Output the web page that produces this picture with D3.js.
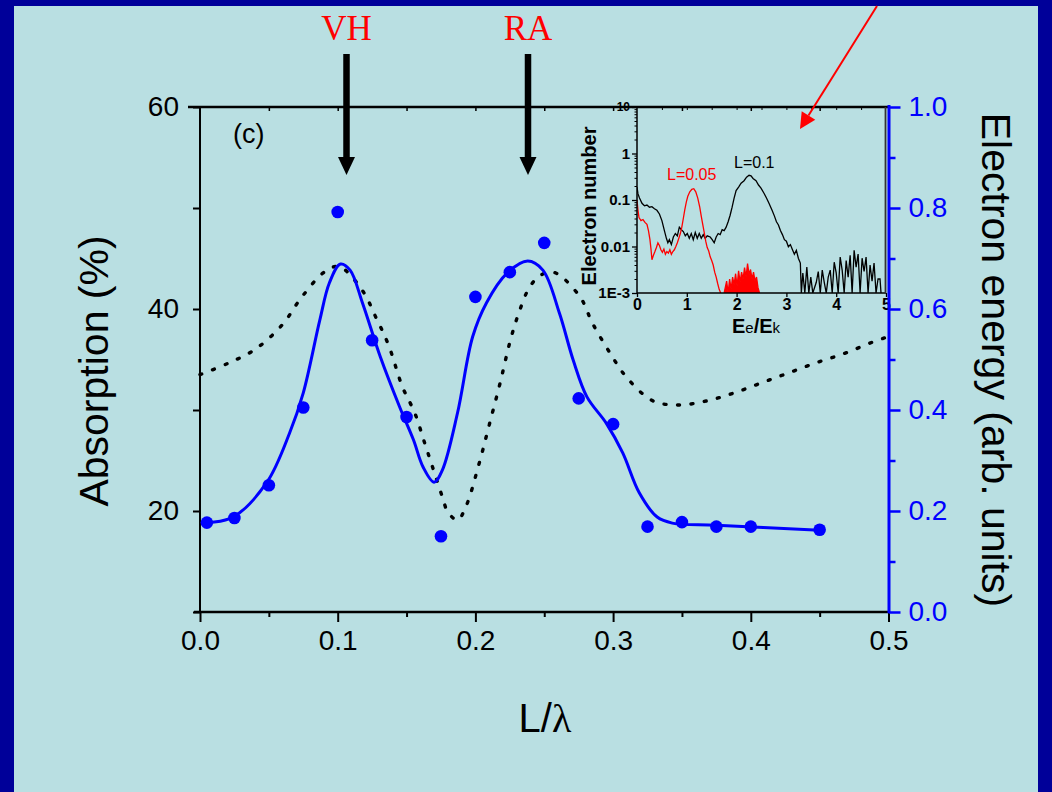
<!DOCTYPE html>
<html>
<head>
<meta charset="utf-8">
<script src="https://cdn.jsdelivr.net/npm/d3@7"></script>
<style>
	body { margin: 0; background: #000099; }
	svg { display: block; }
	text { font-family: Arial, 'Liberation Sans', sans-serif; }
</style>
</head>
<body>
<svg id="chart" width="1052" height="792"></svg>
<script>
// measured electron energy (blue dots, right axis)
const dotL = [0.005, 0.025, 0.05, 0.075, 0.1, 0.125, 0.15, 0.175, 0.2, 0.225, 0.25, 0.275, 0.3, 0.325, 0.35, 0.375, 0.4, 0.45]
const dotE = [0.177, 0.186, 0.251, 0.405, 0.792, 0.538, 0.386, 0.150, 0.624, 0.673, 0.731, 0.423, 0.372, 0.169, 0.178, 0.169, 0.169, 0.163]

// smooth fit through the energies (blue line)
const fitL = [0.002, 0.024, 0.0486, 0.065, 0.075, 0.087, 0.094, 0.102, 0.109, 0.118, 0.131, 0.145, 0.155, 0.162, 0.170, 0.176, 0.187, 0.198, 0.208, 0.223, 0.238, 0.249, 0.261, 0.271, 0.281, 0.295, 0.307, 0.319, 0.332, 0.343, 0.375, 0.450]
const fitE = [0.176, 0.188, 0.257, 0.354, 0.434, 0.578, 0.652, 0.689, 0.677, 0.612, 0.505, 0.406, 0.341, 0.287, 0.257, 0.281, 0.394, 0.545, 0.612, 0.671, 0.695, 0.677, 0.592, 0.499, 0.426, 0.374, 0.315, 0.236, 0.188, 0.176, 0.172, 0.162]

// absorption (dotted, left axis)
const absL = [0, 0.020, 0.040, 0.0595, 0.074, 0.0907, 0.101, 0.1176, 0.128, 0.137, 0.147, 0.156, 0.163, 0.169, 0.176, 0.180, 0.187, 0.193, 0.2025, 0.210, 0.218, 0.225, 0.231, 0.2395, 0.248, 0.2576, 0.276, 0.285, 0.2975, 0.310, 0.329, 0.348, 0.368, 0.388, 0.408, 0.428, 0.448, 0.468, 0.488, 0.4985]
const absV = [33.5, 34.6, 36.0, 38.4, 41.2, 43.7, 44.2, 41.9, 39.1, 36.4, 32.3, 29.7, 26.8, 24.3, 21.4, 19.9, 19.1, 20.4, 24.6, 28.5, 32.7, 36.7, 39.4, 42.2, 43.4, 43.6, 41.2, 38.6, 35.7, 33.2, 30.9, 30.5, 30.9, 31.7, 32.7, 33.7, 34.7, 35.6, 36.7, 37.2]

// tick labels
const xTicks = [0, 0.1, 0.2, 0.3, 0.4, 0.5]
const absTicks = [20, 40, 60]
const enTicks = [0, 0.2, 0.4, 0.6, 0.8, 1.0]
const insetXTicks = [0, 1, 2, 3, 4, 5]
const insetYTicks = [1e-3, 0.01, 0.1, 1, 10]
const insetYLabels = ['1E-3', '0.01', '0.1', '1', '10']

// inset spectra [Ee/Ek, electron number]
const specL01 = [
	[0.00, 0.19], [0.02, 0.135], [0.05, 0.11], [0.10, 0.085], [0.15, 0.075], [0.20, 0.078], [0.25, 0.07], [0.30, 0.072],
	[0.35, 0.065], [0.40, 0.06], [0.45, 0.05], [0.50, 0.036], [0.55, 0.022], [0.59, 0.015], [0.62, 0.012], [0.65, 0.014],
	[0.69, 0.011], [0.73, 0.016], [0.77, 0.019], [0.81, 0.017], [0.85, 0.026], [0.89, 0.023], [0.93, 0.021], [0.97, 0.017],
	[1.01, 0.019], [1.05, 0.015], [1.09, 0.019], [1.13, 0.014], [1.17, 0.02], [1.21, 0.015], [1.25, 0.019], [1.29, 0.015],
	[1.33, 0.018], [1.37, 0.015], [1.41, 0.017], [1.47, 0.016], [1.51, 0.014], [1.55, 0.012], [1.59, 0.016], [1.63, 0.019],
	[1.67, 0.018], [1.71, 0.023], [1.75, 0.022], [1.79, 0.026], [1.83, 0.034], [1.87, 0.047], [1.91, 0.07], [1.95, 0.11],
	[1.99, 0.16], [2.04, 0.19], [2.09, 0.23], [2.15, 0.26], [2.20, 0.31], [2.25, 0.34], [2.29, 0.33], [2.33, 0.29],
	[2.39, 0.26], [2.44, 0.21], [2.49, 0.18], [2.55, 0.14], [2.60, 0.11], [2.65, 0.085], [2.71, 0.061], [2.76, 0.045],
	[2.80, 0.034], [2.84, 0.029], [2.88, 0.022], [2.92, 0.018], [2.96, 0.014], [3.00, 0.013], [3.04, 0.0099], [3.08, 0.011],
	[3.12, 0.0086], [3.16, 0.0068], [3.20, 0.0083], [3.24, 0.0056], [3.28, 0.0044], [3.30, 0.001], [3.33, 0.0027], [3.37, 0.001],
	[3.41, 0.0036], [3.45, 0.001], [3.49, 0.0022], [3.53, 0.001], [3.60, 0.0017], [3.64, 0.0029], [3.68, 0.001], [3.72, 0.0031],
	[3.76, 0.0017], [3.80, 0.001], [3.84, 0.0022], [3.88, 0.0031], [3.92, 0.001], [3.96, 0.0046], [4.00, 0.0027], [4.04, 0.001],
	[4.08, 0.0059], [4.12, 0.0031], [4.16, 0.001], [4.20, 0.005], [4.24, 0.0022], [4.28, 0.0065], [4.32, 0.001], [4.36, 0.0083],
	[4.40, 0.0036], [4.44, 0.0069], [4.48, 0.001], [4.52, 0.0056], [4.56, 0.0029], [4.60, 0.0059], [4.64, 0.001], [4.68, 0.004],
	[4.72, 0.0018], [4.76, 0.0044], [4.80, 0.001], [4.84, 0.002], [4.88, 0.002], [4.90, 0.001]
]
const specL005 = [
	[0.00, 0.10], [0.02, 0.06], [0.04, 0.042], [0.08, 0.036], [0.12, 0.038], [0.16, 0.033], [0.20, 0.030], [0.23, 0.022],
	[0.26, 0.014], [0.28, 0.009], [0.30, 0.0052], [0.33, 0.0065], [0.36, 0.0078], [0.39, 0.0095], [0.42, 0.012], [0.45, 0.0105],
	[0.48, 0.0085], [0.51, 0.0075], [0.54, 0.0088], [0.57, 0.0068], [0.60, 0.0078], [0.63, 0.0072], [0.66, 0.0085], [0.69, 0.0068],
	[0.72, 0.0078], [0.75, 0.0085], [0.78, 0.0100], [0.81, 0.0120], [0.84, 0.0150], [0.87, 0.0190], [0.90, 0.026], [0.93, 0.040],
	[0.96, 0.062], [0.99, 0.090], [1.02, 0.120], [1.06, 0.150], [1.10, 0.170], [1.14, 0.175], [1.18, 0.150], [1.22, 0.110],
	[1.26, 0.070], [1.29, 0.045], [1.32, 0.030], [1.35, 0.020], [1.38, 0.013], [1.41, 0.0095], [1.44, 0.0080], [1.47, 0.0060],
	[1.50, 0.0050], [1.53, 0.0040], [1.56, 0.0028], [1.59, 0.0022], [1.62, 0.0016], [1.65, 0.0012], [1.68, 0.001]
]
// red spike cluster near Ee/Ek = 2
const spikesL005 = [
	[1.75, 0.001], [1.80, 0.0018], [1.83, 0.001], [1.86, 0.0020], [1.89, 0.0012], [1.92, 0.0022], [1.95, 0.0015], [1.98, 0.0026],
	[2.01, 0.0014], [2.04, 0.0030], [2.07, 0.0017], [2.10, 0.0028], [2.13, 0.0020], [2.16, 0.0035], [2.19, 0.0022], [2.22, 0.0043],
	[2.25, 0.0025], [2.28, 0.0032], [2.31, 0.0020], [2.34, 0.0028], [2.37, 0.0018], [2.40, 0.0022], [2.43, 0.0013], [2.46, 0.001]
]

const svg = d3.select('#chart')

svg.append('rect').attr('width', 1052).attr('height', 792).attr('fill', '#000099')
svg.append('rect')
	.attr('x', 14).attr('y', 6)
	.attr('width', 1024).attr('height', 786)
	.attr('fill', '#b9dfe2')

const x = d3.scaleLinear().domain([0, 0.5]).range([200, 888.5])
const yAbs = d3.scaleLinear().domain([10, 60]).range([612, 107])
const yEn = d3.scaleLinear().domain([0, 1]).range([612, 107])

function styleAxis(g, color, size, width) {
	g.select('.domain').remove()
	g.selectAll('line').attr('stroke', color).attr('stroke-width', width)
	g.selectAll('text').attr('fill', color).style('font-size', size + 'px')
}

const minorX = d3.range(0.05, 0.5, 0.1)

// bottom axis
svg.append('g')
	.attr('transform', 'translate(0,612)')
	.call(d3.axisBottom(x).tickValues(xTicks).tickSize(10).tickPadding(8).tickFormat(d3.format('.1f')))
	.call(g => styleAxis(g, '#000', 28, 2))
svg.append('g')
	.attr('transform', 'translate(0,612)')
	.call(d3.axisBottom(x).tickValues(minorX).tickSize(5).tickFormat(''))
	.call(g => styleAxis(g, '#000', 28, 2))

// top axis, ticks pointing in
svg.append('g')
	.attr('transform', 'translate(0,107)')
	.call(d3.axisBottom(x).tickValues(d3.range(0.05, 0.5, 0.05)).tickSize(4).tickFormat(''))
	.call(g => styleAxis(g, '#000', 28, 1.5))

// left axis
svg.append('g')
	.attr('transform', 'translate(200,0)')
	.call(d3.axisLeft(yAbs).tickValues([10, 20, 30, 40, 50, 60]).tickSize(7).tickPadding(14)
		.tickFormat(d => absTicks.includes(d) ? d : ''))
	.call(g => styleAxis(g, '#000', 28, 2))

// right axis (blue)
svg.append('g')
	.attr('transform', 'translate(888.5,0)')
	.call(d3.axisRight(yEn).tickValues(enTicks).tickSize(12).tickPadding(8).tickFormat(d3.format('.1f')))
	.call(g => styleAxis(g, '#0000ff', 28, 2.5))
svg.append('g')
	.attr('transform', 'translate(888.5,0)')
	.call(d3.axisRight(yEn).tickValues([0.1, 0.3, 0.5, 0.7, 0.9]).tickSize(7).tickFormat(''))
	.call(g => styleAxis(g, '#0000ff', 28, 2.5))

// frame lines
svg.append('line').attr('x1', 188).attr('x2', 888.5).attr('y1', 107).attr('y2', 107).attr('stroke', '#000').attr('stroke-width', 2.5)
svg.append('line').attr('x1', 194).attr('x2', 888.5).attr('y1', 612).attr('y2', 612).attr('stroke', '#000').attr('stroke-width', 2.5)
svg.append('line').attr('x1', 200).attr('x2', 200).attr('y1', 107).attr('y2', 612).attr('stroke', '#000').attr('stroke-width', 2)

// axis titles
svg.append('text')
	.attr('transform', 'translate(108,371) rotate(-90)')
	.attr('text-anchor', 'middle')
	.style('font-size', '41px')
	.text('Absorption (%)')
svg.append('text')
	.attr('transform', 'translate(982,360) rotate(90)')
	.attr('text-anchor', 'middle')
	.style('font-size', '41px')
	.text('Electron energy (arb. units)')
const xTitle = svg.append('text')
	.attr('x', 545).attr('y', 732)
	.attr('text-anchor', 'middle')
	.style('font-size', '40px')
xTitle.append('tspan').text('L/')
xTitle.append('tspan').style('font-family', "'Liberation Serif', 'Times New Roman', serif").text('λ')

svg.append('text').attr('x', 233).attr('y', 143).style('font-size', '27px').text('(c)')

// absorption, dotted
const absLine = d3.line()
	.x((d, i) => x(absL[i]))
	.y(d => yAbs(d))
	.curve(d3.curveCatmullRom)
svg.append('path')
	.attr('d', absLine(absV))
	.attr('fill', 'none')
	.attr('stroke', '#000')
	.attr('stroke-width', 3.4)
	.attr('stroke-linecap', 'round')
	.attr('stroke-dasharray', '2 11.5')

// energy fit, solid blue
const fitLine = d3.line()
	.x((d, i) => x(fitL[i]))
	.y(d => yEn(d))
	.curve(d3.curveCatmullRom)
svg.append('path')
	.attr('d', fitLine(fitE))
	.attr('fill', 'none')
	.attr('stroke', '#0000ff')
	.attr('stroke-width', 3)

svg.append('g')
	.selectAll('circle')
	.data(dotE)
	.enter()
	.append('circle')
	.attr('cx', (d, i) => x(dotL[i]))
	.attr('cy', d => yEn(d))
	.attr('r', 6.3)
	.attr('fill', '#0000ff')

// inset
const ix = d3.scaleLinear().domain([0, 5]).range([637, 886])
const iy = d3.scaleLog().domain([1e-3, 10]).range([293, 107])

svg.append('clipPath').attr('id', 'insetClip')
	.append('rect').attr('x', 637).attr('y', 107).attr('width', 249).attr('height', 186)

const inset = svg.append('g')

const specLine = d3.line()
	.x(d => ix(d[0]))
	.y(d => iy(Math.max(d[1], 1e-3)))

const spikeArea = d3.area()
	.x(d => ix(d[0]))
	.y0(293)
	.y1(d => iy(Math.max(d[1], 1e-3)))

const data = inset.append('g').attr('clip-path', 'url(#insetClip)')
data.append('path')
	.attr('d', spikeArea(spikesL005))
	.attr('fill', '#ff0000')
data.append('path')
	.attr('d', specLine(spikesL005))
	.attr('fill', 'none')
	.attr('stroke', '#ff0000')
	.attr('stroke-width', 1.3)
data.append('path')
	.attr('d', specLine(specL01))
	.attr('fill', 'none')
	.attr('stroke', '#000')
	.attr('stroke-width', 1.3)
data.append('path')
	.attr('d', specLine(specL005))
	.attr('fill', 'none')
	.attr('stroke', '#ff0000')
	.attr('stroke-width', 1.3)

const minorLog = []
insetYTicks.slice(0, -1).forEach(t => {
	for (let k = 2; k < 10; k++) minorLog.push(t * k)
})

inset.append('g')
	.attr('transform', 'translate(637,0)')
	.call(d3.axisLeft(iy).tickValues(insetYTicks).tickSize(5).tickPadding(2)
		.tickFormat((d, i) => insetYLabels[i]))
	.call(g => styleAxis(g, '#000', 15, 1.3))
	.call(g => g.selectAll('text').style('font-weight', 'bold'))
	.call(g => g.selectAll('text').filter(d => d === 10).style('font-size', '12px'))
inset.append('g')
	.attr('transform', 'translate(637,0)')
	.call(d3.axisLeft(iy).tickValues(minorLog).tickSize(2.5).tickFormat(''))
	.call(g => styleAxis(g, '#000', 15, 1))

inset.append('g')
	.attr('transform', 'translate(0,293)')
	.call(d3.axisBottom(ix).tickValues(insetXTicks).tickSize(4).tickPadding(2).tickFormat(d3.format('d')))
	.call(g => styleAxis(g, '#000', 16, 1.3))
	.call(g => g.selectAll('text').style('font-weight', 'bold'))
inset.append('g')
	.attr('transform', 'translate(0,107)')
	.call(d3.axisBottom(ix).tickValues(d3.range(0.5, 5, 0.5)).tickSize(3).tickFormat(''))
	.call(g => styleAxis(g, '#000', 15, 1))

inset.append('line').attr('x1', 637).attr('x2', 637).attr('y1', 107).attr('y2', 293).attr('stroke', '#000').attr('stroke-width', 1.5)
inset.append('line').attr('x1', 637).attr('x2', 886).attr('y1', 293).attr('y2', 293).attr('stroke', '#000').attr('stroke-width', 1.5)
inset.append('line').attr('x1', 885.5).attr('x2', 885.5).attr('y1', 107).attr('y2', 293).attr('stroke', '#333').attr('stroke-width', 1.8)

inset.append('text')
	.attr('transform', 'translate(596,206) rotate(-90)')
	.attr('text-anchor', 'middle')
	.style('font-size', '20px')
	.style('font-weight', 'bold')
	.text('Electron number')

const ixTitle = inset.append('text')
	.attr('x', 756).attr('y', 333)
	.attr('text-anchor', 'middle')
	.style('font-size', '20px')
	.style('font-weight', 'bold')
ixTitle.append('tspan').text('E')
ixTitle.append('tspan').style('font-size', '15px').style('font-weight', 'normal').text('e')
ixTitle.append('tspan').text('/E')
ixTitle.append('tspan').style('font-size', '15px').style('font-weight', 'normal').text('k')

inset.append('text').attr('x', 667).attr('y', 180).attr('fill', '#ff0000').style('font-size', '16px').text('L=0.05')
inset.append('text').attr('x', 734).attr('y', 168).attr('fill', '#000').style('font-size', '16px').text('L=0.1')

// blue right axis line drawn over the inset edge
svg.append('line').attr('x1', 889).attr('x2', 889).attr('y1', 105).attr('y2', 613).attr('stroke', '#0000ff').attr('stroke-width', 3)

// VH / RA markers
const marks = [{ label: 'VH', at: 346.5 }, { label: 'RA', at: 528 }]
marks.forEach(m => {
	svg.append('text')
		.attr('x', m.at).attr('y', 40)
		.attr('text-anchor', 'middle')
		.attr('fill', '#ff0000')
		.style('font-family', "'Liberation Serif', 'Times New Roman', serif")
		.style('font-size', '35px')
		.text(m.label)
	svg.append('rect')
		.attr('x', m.at - 3.25).attr('y', 54)
		.attr('width', 6.5).attr('height', 104)
		.attr('fill', '#000')
	svg.append('polygon')
		.attr('points', `${m.at - 8.5},157 ${m.at + 8.5},157 ${m.at},175`)
		.attr('fill', '#000')
})

// red pointer into the inset
const tip = [800, 129]
const tail = [877, 6]
const len = Math.hypot(tip[0] - tail[0], tip[1] - tail[1])
const ux = (tip[0] - tail[0]) / len
const uy = (tip[1] - tail[1]) / len
const base = [tip[0] - 16 * ux, tip[1] - 16 * uy]
svg.append('line')
	.attr('x1', tail[0]).attr('y1', tail[1])
	.attr('x2', base[0]).attr('y2', base[1])
	.attr('stroke', '#ff0000').attr('stroke-width', 2)
svg.append('polygon')
	.attr('points', [tip, [base[0] - 8 * uy, base[1] + 8 * ux], [base[0] + 8 * uy, base[1] - 8 * ux]].map(p => p.join(',')).join(' '))
	.attr('fill', '#ff0000')
</script>
</body>
</html>
